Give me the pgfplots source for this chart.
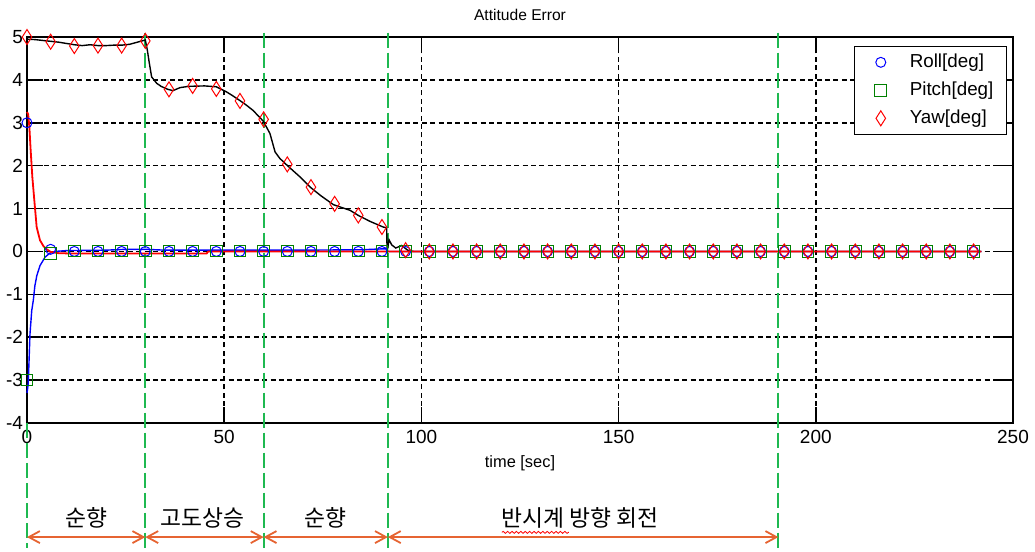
\documentclass[border=0pt]{standalone}
\usepackage{pgfplots}
\pgfplotsset{compat=1.18}
\usepackage{fontspec}
\setmainfont{Liberation Sans}
\newfontfamily\kr{Noto Sans CJK KR}
\usetikzlibrary{arrows.meta,decorations.pathmorphing}
\definecolor{gline}{RGB}{30,185,80}
\definecolor{arr}{RGB}{230,100,50}
\begin{document}
\begin{tikzpicture}
\useasboundingbox (-13.5pt,-64.5pt) rectangle (504pt,211.5pt);
\begin{axis}[
  at={(0,0)}, anchor=south west,
  scale only axis, width=493pt, height=193pt,
  xmin=0, xmax=250, ymin=-4, ymax=5,
  xtick={0,50,...,250}, ytick={-4,-3,...,5},
  clip=false,
  axis line style={line width=0.8pt},
  grid=major,
  major grid style={dash pattern=on 2.5pt off 1.7pt, line width=0.75pt, black},
  tick align=inside, major tick length=8pt,
  tick style={line width=0.8pt, black},
  ticklabel style={font=\fontsize{9.5}{11}\selectfont},
  yticklabel style={xshift=1.5pt},
  /pgf/number format/assume math mode=true,
  title={Attitude Error},
  title style={font=\fontsize{7.8}{9}\selectfont, anchor=base, yshift=2.5pt},
  xlabel={time [sec]},
  xlabel style={font=\fontsize{8.2}{10}\selectfont, at={(axis description cs:0.5,0)}, anchor=base, yshift=-22.5pt},
  legend style={at={(1,1)}, anchor=north east, xshift=-3pt, yshift=-4.35pt,
    draw=black, line width=0.6pt, fill=white, inner xsep=4pt, inner ysep=1pt,
    row sep=0pt, font=\fontsize{9.4}{11}\selectfont,
    nodes={inner sep=2.5pt, text height=7pt, text depth=2pt},
    /tikz/every odd column/.append style={column sep=3pt}},
  legend cell align=left,
  legend image code/.code={\path[draw=none,fill=none] (0pt,-3pt) rectangle (18pt,3pt); \draw[#1] plot coordinates {(9pt,0pt)};},
]
% phase separators
\addplot[gline, dash pattern=on 7.5pt off 2.5pt, line width=0.9pt, forget plot] coordinates {(0,-4) (0,-6.92)};
\addplot[gline, dash pattern=on 7.5pt off 2.5pt, line width=0.9pt, forget plot] coordinates {(30,5.1) (30,-6.92)};
\addplot[gline, dash pattern=on 7.5pt off 2.5pt, line width=0.9pt, forget plot] coordinates {(60,5.1) (60,-6.92)};
\addplot[gline, dash pattern=on 7.5pt off 2.5pt, line width=0.9pt, forget plot] coordinates {(91.5,5.1) (91.5,-6.92)};
\addplot[gline, dash pattern=on 7.5pt off 2.5pt, line width=0.9pt, forget plot] coordinates {(190.5,5.1) (190.5,-6.92)};
% yaw line (black)
\addplot[black, line width=0.7pt, forget plot] coordinates {
(0,4.95) (2,4.94) (4,4.92) (6,4.9) (8,4.88) (10,4.85) (12,4.82) (14,4.8) (16,4.82) (18,4.8) (20,4.8) (22,4.81) (24,4.81) (26,4.83) (28,4.88) (30,4.93)
(30.5,4.7) (31,4.4) (31.6,4.07) (32.9,3.92) (34,3.85) (35.7,3.78) (37,3.75) (38.8,3.82) (41,3.85) (45,3.86) (48,3.84) (50.6,3.72) (52,3.64) (53.8,3.53)
(55.5,3.42) (57.3,3.29) (59.9,3.04) (61.6,2.75) (62.9,2.32) (64.1,2.17) (65.7,2.03) (67.5,1.88) (69.2,1.74) (71.8,1.5) (74.5,1.3) (77.7,1.09) (81.9,0.96)
(84,0.84) (87,0.7) (90.3,0.57) (91.2,0.55) (91.3,0.0) (91.8,0.27) (92.5,0.15) (93.5,0.08) (95,0.14) (96.5,0.03) (98,0) (150,0) (200,0) (242,0)};
% pitch line (blue)
\addplot[blue, line width=0.7pt, forget plot] coordinates {
(0,-3.3) (0.3,-3.1) (0.5,-2.6) (0.76,-1.92) (1.2,-1.38) (1.6,-1.14) (2.0,-0.8) (2.5,-0.56) (3.3,-0.33) (4.6,-0.13) (5.8,-0.04) (7,0.0) (10,0.02)
(20,0.03) (25,0.05) (30,0.05) (35,0.03) (50,0.03) (70,0.03) (85,0.04) (90,0.06) (91.3,0.06) (91.5,0.0) (120,0) (242,0)};
% roll line (red)
\addplot[red, line width=0.9pt, forget plot] coordinates {
(0,3.25) (0.3,3.2) (0.6,2.9) (0.93,2.36) (1.35,1.74) (1.86,1.19) (2.45,0.57) (3.3,0.26) (4.2,0.12) (5.0,0.05) (6,-0.01) (8,-0.04) (12,-0.05)
(20,-0.05) (30,-0.05) (40,-0.05) (45.5,-0.05) (46,0.0) (60,0) (90,0) (120,0) (160,0) (200,0) (242,0)};
% markers
\addplot[only marks, blue, mark=o, mark size=2.5pt, mark options={line width=0.5pt, solid}] coordinates {
(0,3) (6,0.05) (12,0) (18,0) (24,0) (30,0) (36,0) (42,0) (48,0) (54,0) (60,0) (66,0) (72,0) (78,0) (84,0) (90,0) (96,0) (102,0) (108,0) (114,0)
(120,0) (126,0) (132,0) (138,0) (144,0) (150,0) (156,0) (162,0) (168,0) (174,0) (180,0) (186,0) (192,0) (198,0) (204,0) (210,0) (216,0) (222,0)
(228,0) (234,0) (240,0)};
\addlegendentry{Roll[deg]}
\addplot[only marks, green!50!black, mark=square, mark size=2.9pt, mark options={line width=0.5pt, solid}] coordinates {
(0,-3) (6,-0.05) (12,0.01) (18,0.01) (24,0.01) (30,0.01) (36,0.01) (42,0.01) (48,0.01) (54,0.01) (60,0.01) (66,0.01) (72,0.01) (78,0.01) (84,0.01)
(90,0.01) (96,0) (102,0) (108,0) (114,0) (120,0) (126,0) (132,0) (138,0) (144,0) (150,0) (156,0) (162,0) (168,0) (174,0) (180,0) (186,0) (192,0)
(198,0) (204,0) (210,0) (216,0) (222,0) (228,0) (234,0) (240,0)};
\addlegendentry{Pitch[deg]}
\addplot[only marks, red, mark=diamond, mark size=3.75pt, mark options={line width=0.5pt, solid, xscale=0.85}] coordinates {
(0,5.0) (6,4.89) (12,4.79) (18,4.8) (24,4.8) (30,4.91) (36,3.78) (42,3.86) (48,3.79) (54,3.51) (60,3.08) (66,2.03) (72,1.5) (78,1.11) (84,0.84)
(90,0.57) (96,0.03) (102,0) (108,0) (114,0) (120,0) (126,0) (132,0) (138,0) (144,0) (150,0) (156,0) (162,0) (168,0) (174,0) (180,0) (186,0)
(192,0) (198,0) (204,0) (210,0) (216,0) (222,0) (228,0) (234,0) (240,0)};
\addlegendentry{Yaw[deg]}
% phase annotations
\draw[arr, line width=0.9pt, {Straight Barb[length=5.5pt,width=6pt]}-{Straight Barb[length=5.5pt,width=6pt]}] (axis cs:0,-6.66) -- (axis cs:30,-6.66);
\draw[arr, line width=0.9pt, {Straight Barb[length=5.5pt,width=6pt]}-{Straight Barb[length=5.5pt,width=6pt]}] (axis cs:30,-6.66) -- (axis cs:60,-6.66);
\draw[arr, line width=0.9pt, {Straight Barb[length=5.5pt,width=6pt]}-{Straight Barb[length=5.5pt,width=6pt]}] (axis cs:60,-6.66) -- (axis cs:91.5,-6.66);
\draw[arr, line width=0.9pt, {Straight Barb[length=5.5pt,width=6pt]}-{Straight Barb[length=5.5pt,width=6pt]}] (axis cs:91.5,-6.66) -- (axis cs:190.5,-6.66);
\node[font=\kr\fontsize{11.4}{13}\selectfont] at (axis cs:15,-6.22) {순향};
\node[font=\kr\fontsize{11.4}{13}\selectfont] at (axis cs:44.5,-6.22) {고도상승};
\node[font=\kr\fontsize{11.4}{13}\selectfont] at (axis cs:75.7,-6.22) {순향};
\node[font=\kr\fontsize{11.4}{13}\selectfont] at (axis cs:140.3,-6.22) {반시계 방향 회전};
\draw[red, line width=0.4pt, decorate, decoration={snake, amplitude=0.5pt, segment length=2.2pt}] (axis cs:120.4,-6.55) -- (axis cs:137.4,-6.55);
\end{axis}
\end{tikzpicture}
\end{document}
